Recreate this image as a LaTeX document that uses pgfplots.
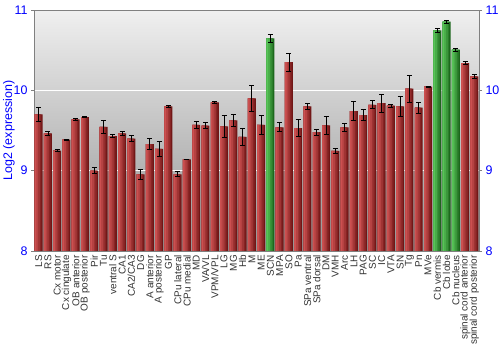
\documentclass[border=0pt]{standalone}
\usepackage{fontspec}
\setmainfont{Liberation Sans}
\usepackage{pgfplots}
\usepackage{pgfplotstable}
\pgfplotsset{compat=1.18}
\definecolor{redL}{HTML}{CC5050}
\definecolor{redD}{HTML}{701616}
\definecolor{grnL}{HTML}{58C458}
\definecolor{grnD}{HTML}{1C661C}
\definecolor{axgray}{HTML}{808080}
\definecolor{tickblue}{HTML}{0000FF}
\pgfplotstableread{
x y e
0 9.70 0.09
1 9.465 0.02
2 9.25 0.015
3 9.385 0.01
4 9.64 0.015
5 9.665 0.005
6 9.00 0.04
7 9.545 0.08
8 9.43 0.02
9 9.465 0.02
10 9.40 0.04
11 8.955 0.06
12 9.33 0.07
13 9.27 0.09
14 9.80 0.01
15 8.955 0.03
16 9.14 0.003
17 9.57 0.045
18 9.56 0.04
19 9.85 0.015
20 9.55 0.14
21 9.625 0.075
22 9.42 0.10
23 9.90 0.165
24 9.57 0.12
26 9.54 0.055
27 10.35 0.11
28 9.53 0.105
29 9.80 0.035
30 9.48 0.035
31 9.565 0.11
32 9.245 0.03
33 9.54 0.05
34 9.74 0.12
35 9.69 0.07
36 9.82 0.05
37 9.84 0.11
38 9.81 0.02
39 9.80 0.13
40 10.02 0.17
41 9.785 0.07
42 10.045 0.01
46 10.34 0.02
47 10.174 0.025
}\reddata
\pgfplotstableread{
x y e
25 10.647 0.055
43 10.747 0.02
44 10.855 0.02
45 10.506 0.02
}\grndata
\pgfplotsset{
  common/.style={
    at={(34bp,99bp)}, anchor=south west, scale only axis,
    width=445bp, height=241bp,
    xmin=-0.5, xmax=47.5, ymin=8, ymax=11,
    ytick={8,9,10,11},
    /pgf/number format/assume math mode=true,
    yticklabel style={font=\fontsize{12.5}{12.5}\selectfont, text=tickblue},
    tick align=outside, major tick length=3bp,
    axis line style={axgray, line width=0.8pt},
    tick style={axgray, line width=0.8pt},
  },
  layer/.style 2 args={ybar, bar width=#1, bar shift={-(0.86-#1)/2}, draw=none, fill=#2},
  errs/.style={draw=none, mark=none,
    error bars/.cd, y dir=both, y explicit,
    error bar style={black, line width=0.8pt},
    error mark options={black, mark size=2.5pt, line width=0.8pt, rotate=90}},
}
\begin{document}
\begin{tikzpicture}
\path[use as bounding box] (0,0) rectangle (500bp,350bp);
\begin{axis}[common,
  axis background/.style={shade, top color=black!6, bottom color=black!42},
  ymajorgrids, grid style={white, line width=0.8pt},
  ytick pos=left,
  xtick={0,...,47},
  xticklabels={LS,RS,Cx motor,Cx cingulate,OB anterior,OB posterior,Pir,Tu,ventral S,CA1,CA2/CA3,DG,A anterior,A posterior,GP,CPu lateral,CPu medial,MD,VA/VL,VPM/VPL,LG,MG,Hb,M,ME,SCN,MPA,SO,Pa,SPa ventral,SPa dorsal,DM,VMH,Arc,LH,PAG,SC,IC,VTA,SN,Tg,Pn,MVe,Cb vermis,Cb lobe,Cb nucleus,spinal cord anterior,spinal cord posterior},
  xticklabel style={rotate=90, anchor=east, font=\fontsize{10}{10}\selectfont, text=black!80, inner sep=1pt},
  x tick style={draw=none},
  ylabel={Log2 (expression)},
  every axis y label/.style={at={(axis description cs:-0.0562,0.5)}, rotate=90, anchor=center, font=\fontsize{12.5}{12.5}\selectfont, text=tickblue},
]
% red bars, layered for a horizontal gradient
\addplot[layer={0.86}{redD}] table[x=x,y=y] {\reddata};
\addplot[layer={0.72}{redD!75!redL}] table[x=x,y=y] {\reddata};
\addplot[layer={0.56}{redD!50!redL}] table[x=x,y=y] {\reddata};
\addplot[layer={0.38}{redD!25!redL}] table[x=x,y=y] {\reddata};
\addplot[layer={0.18}{redL}] table[x=x,y=y] {\reddata};
% green bars
\addplot[layer={0.86}{grnD}] table[x=x,y=y] {\grndata};
\addplot[layer={0.72}{grnD!75!grnL}] table[x=x,y=y] {\grndata};
\addplot[layer={0.56}{grnD!50!grnL}] table[x=x,y=y] {\grndata};
\addplot[layer={0.38}{grnD!25!grnL}] table[x=x,y=y] {\grndata};
\addplot[layer={0.18}{grnL}] table[x=x,y=y] {\grndata};
% error bars
\addplot[errs] table[x=x,y=y,y error=e] {\reddata};
\addplot[errs] table[x=x,y=y,y error=e] {\grndata};
\end{axis}
\begin{axis}[common,
  axis x line=none, axis y line*=right,
  xtick=\empty,
]
\addplot[draw=none] coordinates {(0,8)};
\end{axis}
\end{tikzpicture}
\end{document}
